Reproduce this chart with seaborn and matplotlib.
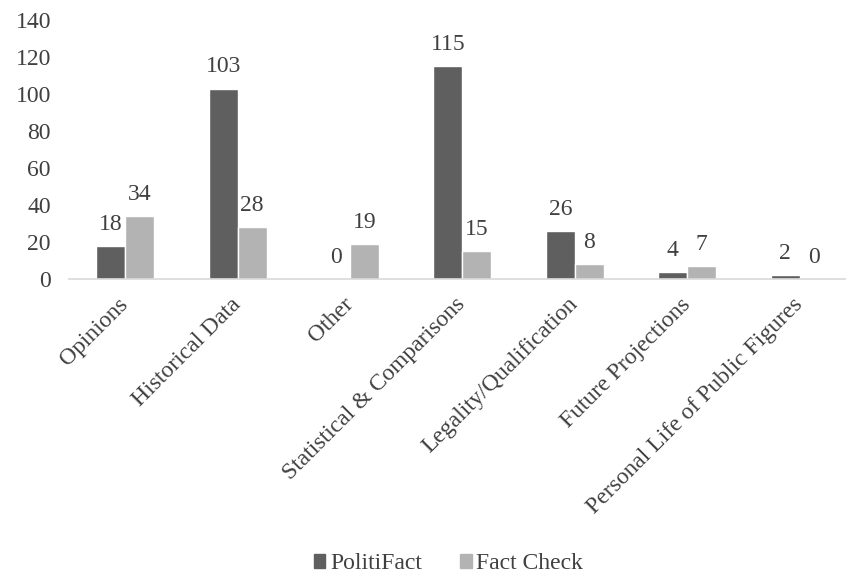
import pandas as pd
import matplotlib.pyplot as plt
import seaborn as sns

# 카테고리별 주장 건수
categories = ['Opinions', 'Historical Data', 'Other', 'Statistical & Comparisons',
              'Legality/Qualification', 'Future Projections', 'Personal Life of Public Figures']
politifact = [18, 103, 0, 115, 26, 4, 2]
fact_check = [34, 28, 19, 15, 8, 7, 0]
series_names = ['PolitiFact', 'Fact Check']

df = pd.DataFrame({
    'Category': categories * 2,
    'Count': politifact + fact_check,
    'Source': [series_names[0]] * len(categories) + [series_names[1]] * len(categories),
})

sns.set_theme(style='white')
plt.rcParams['font.family'] = ['Liberation Serif', 'DejaVu Serif']
text_color = '#404040'
fs = 17

fig = plt.figure(figsize=(8.46, 5.73), dpi=100)
# 원본처럼 오른쪽 끝이 잘린 형태 (축이 그림 밖까지 이어짐)
ax = fig.add_axes([0.0816, 0.513, 0.930, 0.452])

sns.barplot(data=df, x='Category', y='Count', hue='Source',
            palette=['#5f5f5f', '#b3b3b3'], width=0.516, saturation=1,
            ax=ax, legend=False)

# 막대 위 값 표시
for container in ax.containers:
    ax.bar_label(container, fmt='%d', padding=8, fontsize=fs, color=text_color)

ax.set_ylim(0, 140)
ax.set_yticks(range(0, 141, 20))
ax.set_xlabel('')
ax.set_ylabel('')
ax.set_xlim(-0.5, len(categories) - 0.5)

for side in ['top', 'right', 'left']:
    ax.spines[side].set_visible(False)
ax.spines['bottom'].set_color('#d9d9d9')
ax.spines['bottom'].set_linewidth(1.2)

ax.tick_params(axis='both', length=0, labelsize=fs, colors=text_color)
ax.tick_params(axis='y', pad=13)
ax.tick_params(axis='x', pad=16)
plt.setp(ax.get_xticklabels(), rotation=45, ha='right', va='center', rotation_mode='anchor')

handles = [plt.Rectangle((0, 0), 1, 1, color=c) for c in ['#5f5f5f', '#b3b3b3']]
fig.legend(handles, series_names, loc='center', bbox_to_anchor=(0.53, 0.016),
           ncol=2, frameon=False, fontsize=fs, handlelength=0.5, handleheight=0.5,
           handletextpad=0.2, columnspacing=1.6, labelcolor=text_color)

fig.savefig('out.png', dpi=100)
